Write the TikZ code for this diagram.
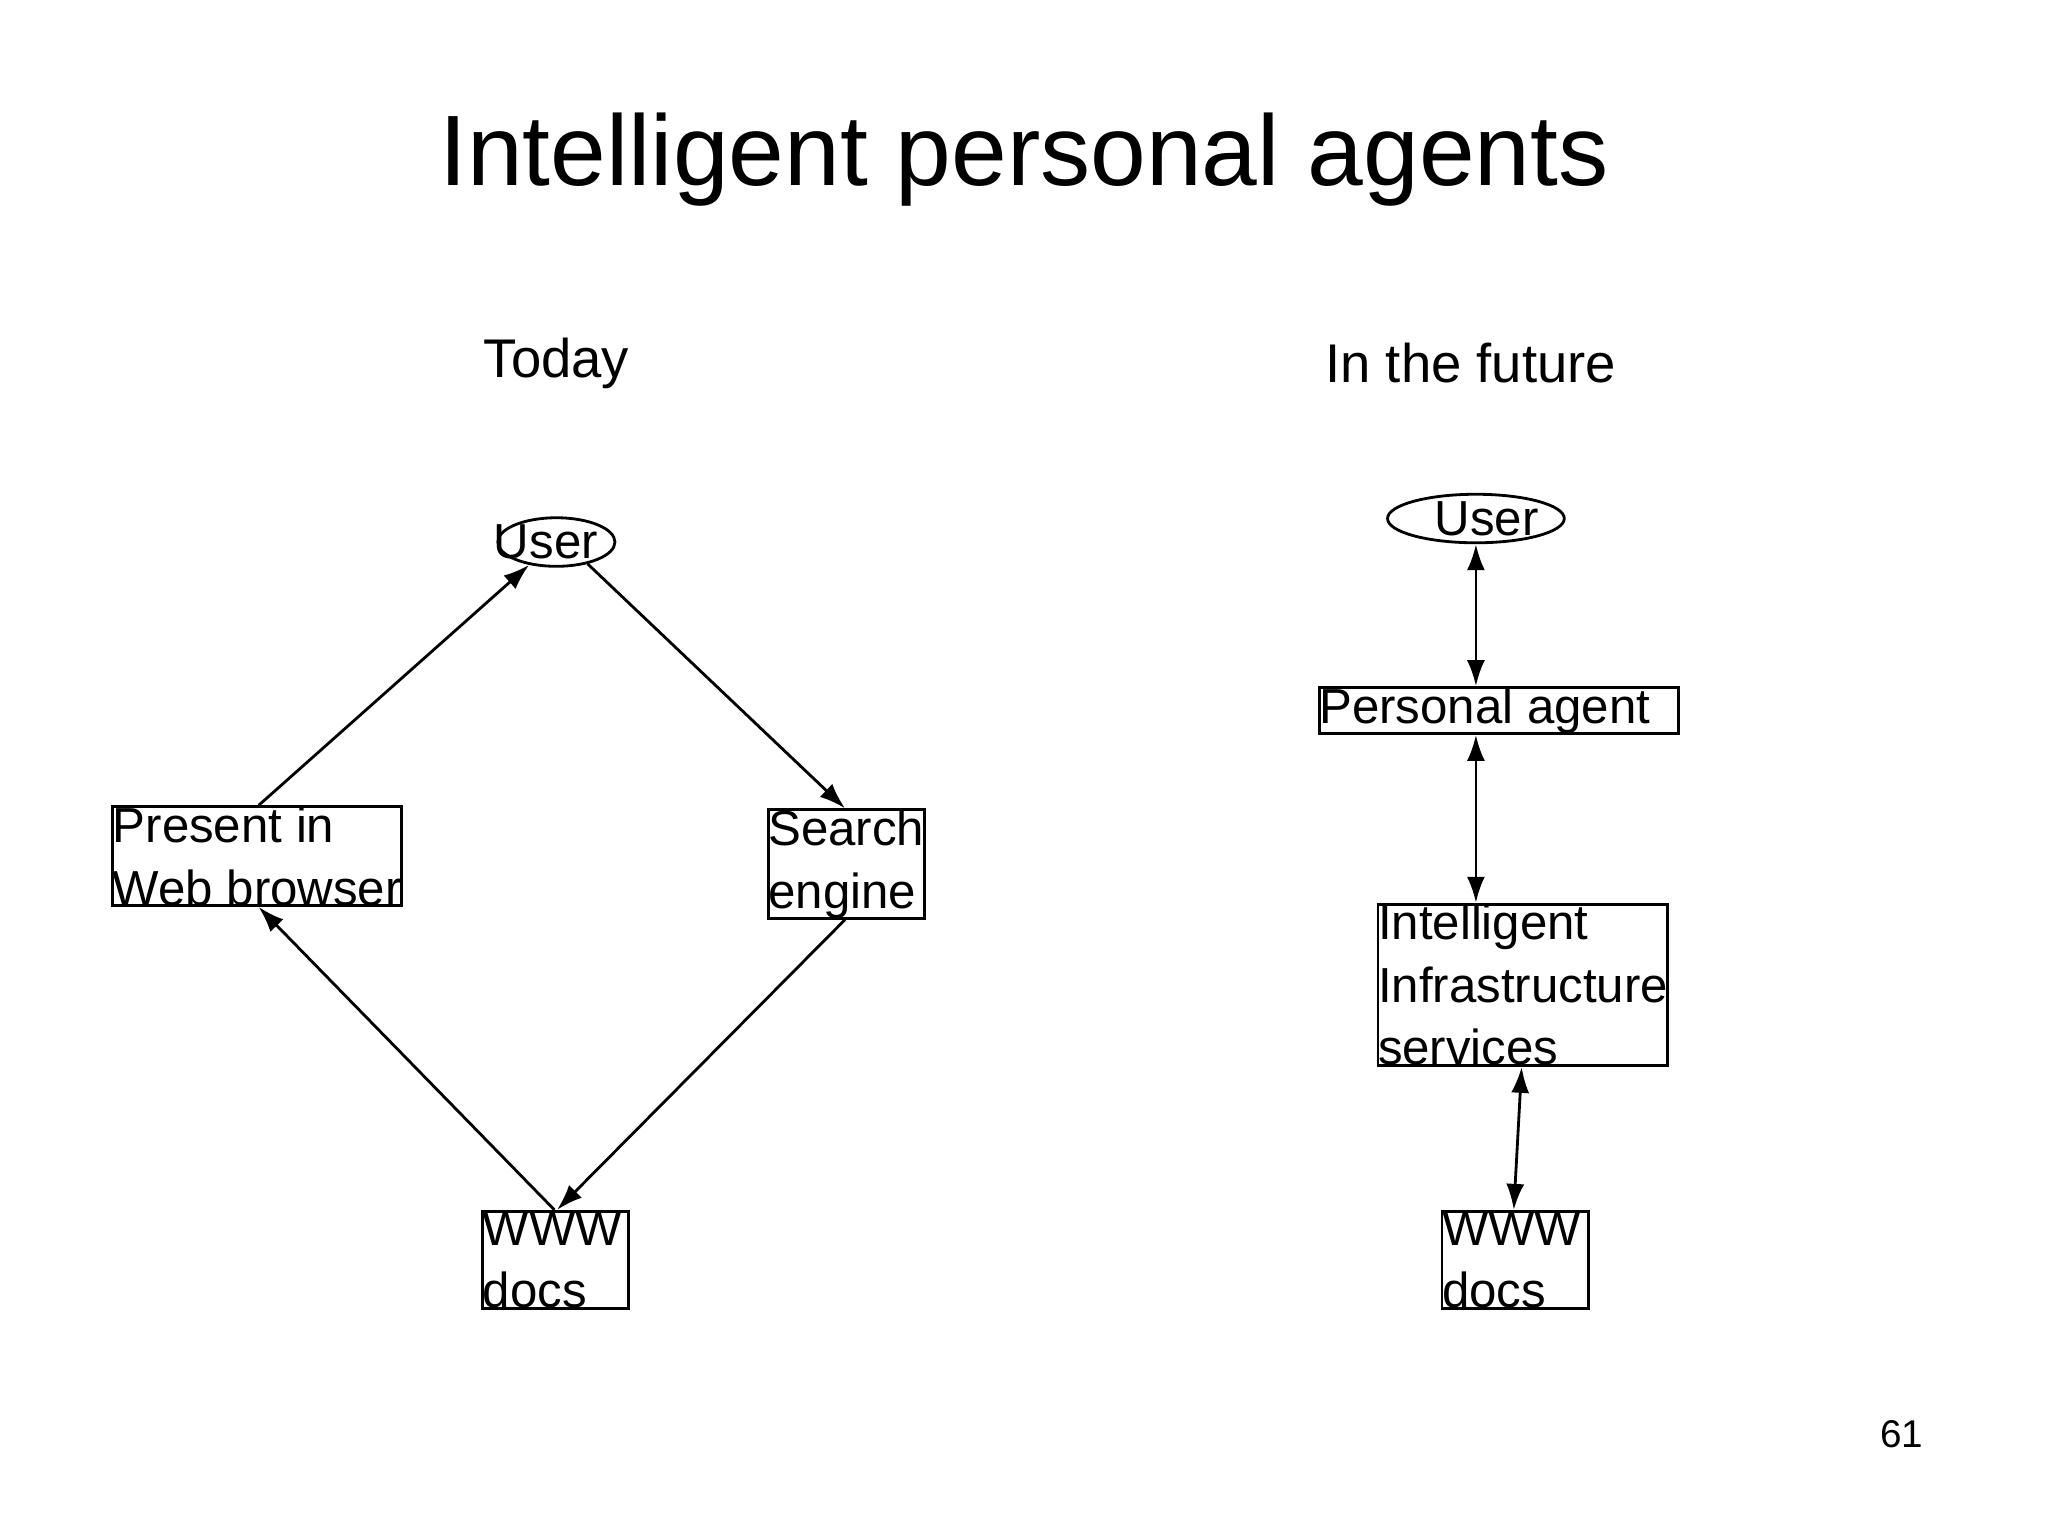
\documentclass[tikz,border=0pt]{standalone}
\usepackage{fontspec}
\setmainfont{Liberation Sans}
\usetikzlibrary{arrows.meta,calc,shapes.geometric}
\begin{document}
\begin{tikzpicture}[x=0.013061cm,y=-0.013061cm,
  box/.style={draw,line width=0.8pt,inner sep=0pt,align=left,font=\fontsize{14}{17.8}\selectfont},
  ell/.style={draw,line width=0.8pt,ellipse,inner sep=0pt,font=\fontsize{14}{17.8}\selectfont},
  arr/.style={line width=0.8pt,-{Latex[length=2.6mm,width=1.8mm]}},
  darr/.style={line width=0.8pt,{Latex[length=2.6mm,width=1.8mm]}-{Latex[length=2.6mm,width=1.8mm]}}]
\useasboundingbox (0,0) rectangle (1568,1176);
\node[font=\fontsize{28.5}{34}\selectfont] (title) at (784,122) {Intelligent personal agents};
\node[font=\fontsize{15.5}{19}\selectfont] (today) at (426,278) {Today};
\node[font=\fontsize{15.5}{19}\selectfont] (future) at (1126,278) {In the future};
\node[font=\fontsize{11}{13}\selectfont] (pg) at (1456,1098) {61};
% left
\node[ell,minimum width=148\dimexpr0.013061cm\relax,minimum height=98\dimexpr0.013061cm\relax] (u1) at (426,415) {\hspace*{-6pt}User};
\node[box,minimum width=260\dimexpr0.013061cm\relax,minimum height=111\dimexpr0.013061cm\relax] (pres) at (197,655.5) {Present in\\Web browser};
\node[box,minimum width=172\dimexpr0.013061cm\relax,minimum height=123\dimexpr0.013061cm\relax] (srch) at (648,661.5) {Search\\engine};
\node[box,minimum width=173\dimexpr0.013061cm\relax,minimum height=111\dimexpr0.013061cm\relax] (www1) at (425.5,964.5) {WWW\\docs\hspace*{12pt}};
\draw[arr] ([xshift=18\dimexpr0.013061cm\relax]pres.north) -- (u1.220);
\draw[arr] (u1.-35) -- ([xshift=-13\dimexpr0.013061cm\relax]srch.north);
\draw[arr] ([xshift=-13\dimexpr0.013061cm\relax]srch.south) -- ([xshift=26\dimexpr0.013061cm\relax]www1.north);
\draw[arr] ([xshift=-13\dimexpr0.013061cm\relax]www1.north) -- ([xshift=32\dimexpr0.013061cm\relax]pres.south);
% right
\node[ell,minimum width=148\dimexpr0.013061cm\relax,minimum height=112\dimexpr0.013061cm\relax] (u2) at (1130,397) {\hspace*{6pt}User};
\node[box,minimum width=309\dimexpr0.013061cm\relax,minimum height=86\dimexpr0.013061cm\relax] (pa) at (1147.5,544) {Personal agent\hspace*{8pt}};
\node[box,minimum width=296\dimexpr0.013061cm\relax,minimum height=160\dimexpr0.013061cm\relax] (iis) at (1166,754) {Intelligent\\Infrastructure\\services};
\node[box,minimum width=186\dimexpr0.013061cm\relax,minimum height=111\dimexpr0.013061cm\relax] (www2) at (1160,964.5) {WWW\\docs\hspace*{12pt}};
\draw[darr] (u2.south) -- (u2.south |- pa.north);
\draw[darr] (pa.south -| u2.south) -- (u2.south |- iis.north);
\draw[darr] ([xshift=-24\dimexpr0.013061cm\relax]iis.south) -- ([xshift=-18\dimexpr0.013061cm\relax]www2.north);
\end{tikzpicture}
\end{document}
